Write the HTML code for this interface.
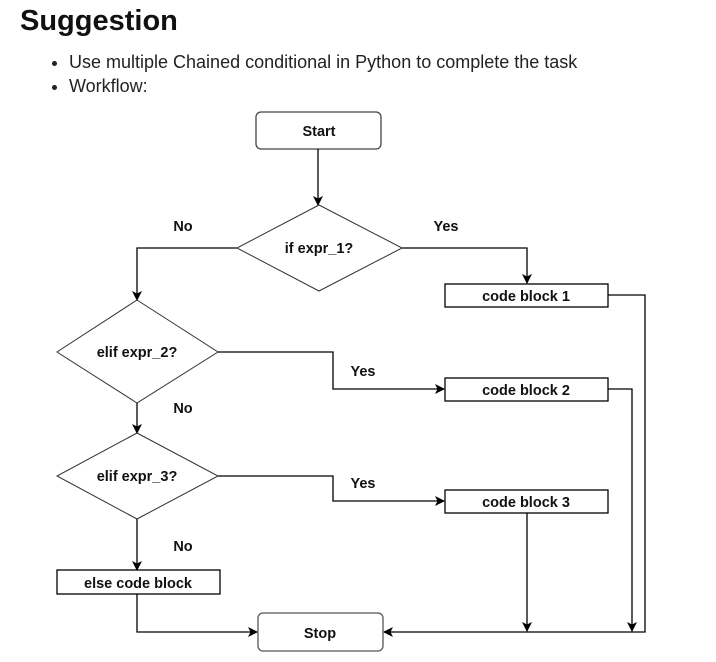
<!DOCTYPE html>
<html><head><style>
body{margin:0;background:#fff;width:716px;height:662px;overflow:hidden;font-family:"Liberation Sans",sans-serif;}
h1{position:absolute;left:20px;top:5px;margin:0;font-size:29px;font-weight:bold;color:#111;}
ul{position:absolute;left:48px;top:50px;margin:0;padding-left:21px;font-size:18px;color:#222;line-height:24px;}
svg{position:absolute;left:0;top:0;}
svg text{font-family:"Liberation Sans",sans-serif;font-weight:bold;font-size:14.5px;fill:#111;}
</style></head><body>
<h1>Suggestion</h1>
<ul><li>Use multiple Chained conditional in Python to complete the task</li><li>Workflow:</li></ul>
<svg width="716" height="662">
<defs><marker id="a" markerWidth="10" markerHeight="10" refX="9" refY="5" orient="auto" markerUnits="userSpaceOnUse"><path d="M0,0 L10,5 L0,10 L2.5,5Z" fill="#000"/></marker></defs>
<g fill="none" stroke="#000" stroke-width="1.3">
<rect x="256" y="112" width="125" height="37" rx="5" stroke="#444"/>
<path d="M318,149 V205" marker-end="url(#a)"/>
<polygon points="319,205 402,248 319,291 237,248" stroke="#333" stroke-width="1"/>
<path d="M237,248 H137 V300" marker-end="url(#a)"/>
<path d="M402,248 H527 V283" marker-end="url(#a)"/>
<rect x="445" y="284" width="163" height="23"/>
<path d="M608,295 H645 V632 H384" marker-end="url(#a)"/>
<polygon points="137,300 218,352 137,403 57,352" stroke="#333" stroke-width="1"/>
<path d="M218,352 H333 V389 H444" marker-end="url(#a)"/>
<rect x="445" y="378" width="163" height="23"/>
<path d="M608,389 H632 V631" marker-end="url(#a)"/>
<path d="M137,403 V433" marker-end="url(#a)"/>
<polygon points="137,433 218,476 137,519 57,476" stroke="#333" stroke-width="1"/>
<path d="M218,476 H333 V501 H444" marker-end="url(#a)"/>
<rect x="445" y="490" width="163" height="23"/>
<path d="M527,513 V631" marker-end="url(#a)"/>
<path d="M137,519 V570" marker-end="url(#a)"/>
<rect x="57" y="570" width="163" height="24"/>
<path d="M137,594 V632 H257" marker-end="url(#a)"/>
<rect x="258" y="613" width="125" height="38" rx="5" stroke="#555"/>
</g>
<text x="319" y="136" text-anchor="middle">Start</text>
<text x="319" y="253" text-anchor="middle">if expr_1?</text>
<text x="526" y="301" text-anchor="middle">code block 1</text>
<text x="137" y="357" text-anchor="middle">elif expr_2?</text>
<text x="526" y="395" text-anchor="middle">code block 2</text>
<text x="137" y="481" text-anchor="middle">elif expr_3?</text>
<text x="526" y="507" text-anchor="middle">code block 3</text>
<text x="138" y="588" text-anchor="middle">else code block</text>
<text x="320" y="638" text-anchor="middle">Stop</text>
<text x="183" y="231" text-anchor="middle">No</text>
<text x="446" y="231" text-anchor="middle">Yes</text>
<text x="363" y="376" text-anchor="middle">Yes</text>
<text x="183" y="413" text-anchor="middle">No</text>
<text x="363" y="488" text-anchor="middle">Yes</text>
<text x="183" y="551" text-anchor="middle">No</text>
</svg>
</body></html>
